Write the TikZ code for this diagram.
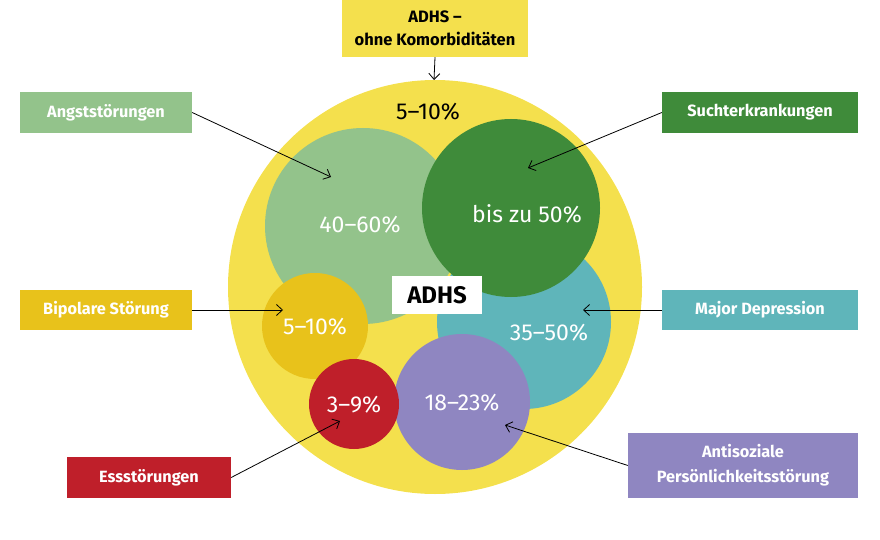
\documentclass[tikz,border=0pt]{standalone}
\usepackage{fontspec}
\setmainfont{Fira Sans}
\usetikzlibrary{arrows.meta}
\definecolor{bigyel}{HTML}{F4E04D}
\definecolor{lgreen}{HTML}{93C38B}
\definecolor{dgreen}{HTML}{3F8B3A}
\definecolor{teal2}{HTML}{5FB5BA}
\definecolor{purp}{HTML}{8F86C1}
\definecolor{redc}{HTML}{BF1F2A}
\definecolor{bipo}{HTML}{E8C21B}
\tikzset{
  lab/.style={fill=#1, inner sep=0pt, font=\fontsize{16.3}{19}\selectfont\bfseries, text=white, align=center},
  pct/.style={font=\fontsize{23}{26}\selectfont, text=white},
  arr/.style={draw=black, line width=0.8pt, -{Straight Barb[length=6pt,width=11pt]}},
}
\begin{document}
\begin{tikzpicture}[x=1pt,y=-1pt]
\useasboundingbox (0,0) rectangle (880,540);
% circles
\fill[bigyel] (435,287) circle (207);
\fill[lgreen] (363,226) circle (98);
\fill[teal2] (524,322) circle (87);
\fill[dgreen] (511,208) circle (89);
\fill[bipo] (315,326) circle (53);
\fill[purp] (462,402) circle (68);
\fill[redc] (354,404) circle (45);
% circle anchors
\coordinate (cAngst) at (331,177);
\coordinate (cSucht) at (528,168);
\coordinate (cBipo) at (283,310);
\coordinate (cDep) at (583,310);
\coordinate (cEss) at (340,421);
\coordinate (cAnti) at (505,425);
\coordinate (cTop) at (434,80);
% percentages
\node[font=\fontsize{23}{26}\selectfont, text=black] (p0) at (428,112) {5–10\%};
\node[pct] (p1) at (360,225) {40–60\%};
\node[pct] (p2) at (527,214) {bis zu 50\%};
\node[pct] (p3) at (315,327) {5–10\%};
\node[pct] (p4) at (549,333) {35–50\%};
\node[pct] (p5) at (354,405) {3–9\%};
\node[pct] (p6) at (462,403) {18–23\%};
% ADHS center
\node[fill=white, minimum width=90pt, minimum height=38pt, inner sep=0pt, font=\fontsize{24}{28}\selectfont\bfseries] (adhs) at (437,295) {ADHS};
% label boxes
\node[lab=bigyel, text=black, minimum width=186pt, minimum height=57pt, font=\fontsize{16.5}{23}\selectfont\bfseries] (top) at (435,28.5) {ADHS –\\ohne Komorbiditäten};
\node[lab=lgreen, minimum width=172pt, minimum height=41pt] (angst) at (106,112.5) {Angststörungen};
\node[lab=dgreen, minimum width=196pt, minimum height=41pt] (sucht) at (760,112.5) {Suchterkrankungen};
\node[lab=bipo, minimum width=172pt, minimum height=40pt] (bipol) at (106,310) {Bipolare Störung};
\node[lab=teal2, minimum width=196pt, minimum height=40pt] (dep) at (760,310) {Major Depression};
\node[lab=redc, minimum width=164pt, minimum height=41pt] (ess) at (149,477.5) {Essstörungen};
\node[lab=purp, minimum width=230pt, minimum height=65pt, font=\fontsize{16.3}{25}\selectfont\bfseries] (anti) at (743,465.5) {Antisoziale\\Persönlichkeitsstörung};
% arrows
\draw[arr] (top.south) -- (cTop);
\draw[arr] (angst.east) -- (cAngst);
\draw[arr] (sucht.west) -- (cSucht);
\draw[arr] (bipol.east) -- (cBipo);
\draw[arr] (dep.west) -- (cDep);
\draw[arr] (ess.east) -- (cEss);
\draw[arr] (anti.west) -- (cAnti);
\end{tikzpicture}
\end{document}
